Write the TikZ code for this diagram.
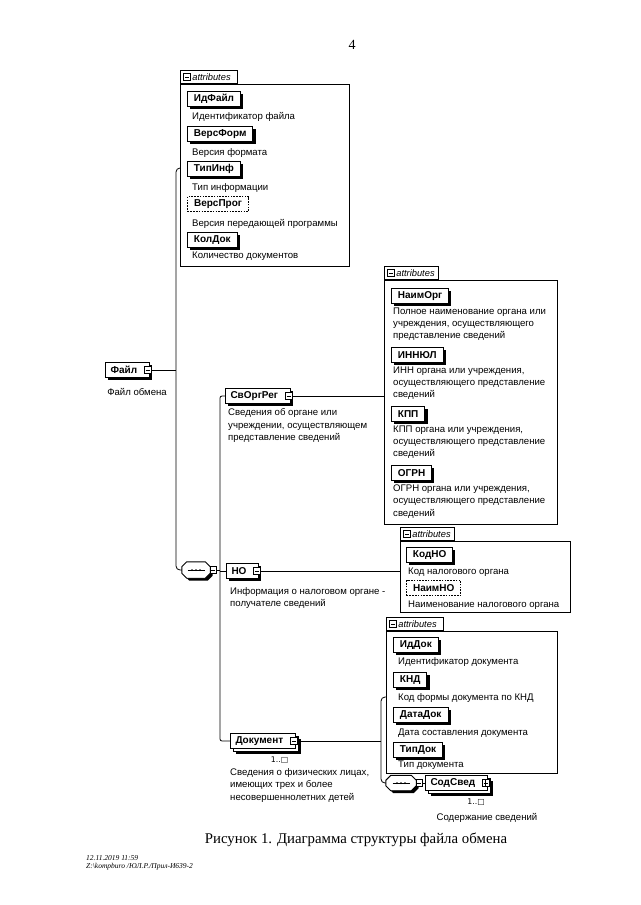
\documentclass[tikz,border=0pt]{standalone}
\usepackage{fontspec}
\setmainfont{Liberation Serif}
\newfontfamily\arfont{Liberation Sans}
\newfontfamily\djfont{DejaVu Sans}
\usetikzlibrary{shadows,calc}
\newcommand{\seqshape}[1]{%
  \fill[black] ($(#1.north west)+(7.5,2.5)$) -- ($(#1.north east)+(-2.5,2.5)$) -- ($(#1.north east)+(2.5,7.5)$) -- ($(#1.south east)+(2.5,-2.5)$)
     -- ($(#1.south east)+(-2.5,2.5)$) -- ($(#1.south west)+(7.5,2.5)$) -- ($(#1.south west)+(2.5,-2.5)$) -- ($(#1.north west)+(2.5,7.5)$) -- cycle;
  \draw[line width=0.9pt,fill=white] ($(#1.north west)+(5,0)$) -- ($(#1.north east)+(-5,0)$) -- ($(#1.north east)+(0,5)$) -- ($(#1.south east)+(0,-5)$)
     -- ($(#1.south east)+(-5,0)$) -- ($(#1.south west)+(5,0)$) -- ($(#1.south west)+(0,-5)$) -- ($(#1.north west)+(0,5)$) -- cycle;
  \draw[line width=0.6pt] ($(#1.center)+(-8.5,0)$) -- ($(#1.center)+(8.5,0)$);
  \foreach \dx in {-4,0,4} \fill ($(#1.center)+(\dx,0)$) circle (1pt);
}
\tikzset{
  conn/.style={line width=0.8pt},
  lblfont/.style={font=\arfont\bfseries\fontsize{10}{12}\selectfont},
  shd/.style={drop shadow={shadow xshift=2.6pt,shadow yshift=-2.6pt,opacity=1,fill=black}},
  attnode/.style={lblfont,draw,fill=white,line width=0.9pt,inner xsep=6.5pt,inner ysep=0pt,minimum height=15pt,anchor=north west,shd},
  optnode/.style={lblfont,draw,fill=white,line width=1.1pt,dash pattern=on 1.6pt off 1.2pt,inner xsep=6.5pt,inner ysep=0pt,minimum height=15pt,anchor=north west},
  elemnode/.style={lblfont,draw,fill=white,line width=1pt,inner xsep=5pt,inner ysep=0pt,minimum height=15.5pt,anchor=west,execute at end node={\hspace{7pt}},shd},
  multinode/.style={lblfont,draw,fill=white,line width=1pt,inner xsep=5pt,inner ysep=0pt,minimum height=15pt,anchor=west,execute at end node={\hspace{7pt}},
     drop shadow={shadow xshift=5.5pt,shadow yshift=-5.5pt,opacity=1,fill=black},
     copy shadow={shadow xshift=3pt,shadow yshift=-3pt,draw=black,fill=white,line width=0.9pt}},
  descr/.style={font=\arfont\fontsize{9.6}{12.3}\selectfont,anchor=north west,inner sep=0pt,align=left},
  abox/.style={draw,line width=0.8pt,anchor=north west,inner sep=0pt},
  tabnode/.style={draw,fill=white,line width=0.8pt,anchor=south west,inner xsep=3pt,inner ysep=0pt,minimum height=13.5pt,font=\arfont\itshape\fontsize{9.3}{10}\selectfont},
  pmbox/.style={draw,fill=white,line width=0.6pt,minimum width=6.5pt,minimum height=7.5pt,inner sep=0pt,
     path picture={\draw[line width=0.6pt] ([xshift=1.2pt]path picture bounding box.west) -- ([xshift=-1.2pt]path picture bounding box.east);}},
  plusbox/.style={pmbox,
     path picture={\draw[line width=0.6pt] ([xshift=1.2pt]path picture bounding box.west) -- ([xshift=-1.2pt]path picture bounding box.east) ([yshift=1.2pt]path picture bounding box.south) -- ([yshift=-1.2pt]path picture bounding box.north);}},
  seqbox/.style={minimum width=28pt,minimum height=16pt,inner sep=0pt},
  multtxt/.style={font=\djfont\fontsize{7.8}{9}\selectfont,inner sep=0pt}
}
\begin{document}
\begin{tikzpicture}[x=1pt,y=-1pt]
\fill[white] (0,0) rectangle (640,905);
\useasboundingbox (0,0) rectangle (640,905);

\node[font=\fontsize{14}{16}\selectfont] (pg) at (352,45) {4};

% ---------- attributes of Файл
\node[abox,minimum width=169pt,minimum height=182pt] (ab1) at (180,84) {};
\node[tabnode,text width=51pt] (tb1) at (ab1.north west) {\hspace{9pt}attributes};
\node[pmbox] (tb1m) at ([xshift=7pt]tb1.west) {};
\node[attnode] (idf) at (187,91) {ИдФайл};
\node[descr] (idfd) at (192,112.5) {Идентификатор файла};
\node[attnode] (vf) at (187,126) {ВерсФорм};
\node[descr] (vfd) at (192,148.5) {Версия формата};
\node[attnode] (ti) at (187,161) {ТипИнф};
\node[descr] (tid) at (192,183.5) {Тип информации};
\node[optnode] (vp) at (187,196) {ВерсПрог};
\node[descr] (vpd) at (192,219.5) {Версия передающей программы};
\node[attnode] (kd) at (187,232) {КолДок};
\node[descr] (kdd) at (192,251.5) {Количество документов};

% ---------- attributes of СвОргРег
\node[abox,minimum width=173pt,minimum height=244pt] (ab2) at (384,280) {};
\node[tabnode,text width=48pt] (tb2) at (ab2.north west) {\hspace{9pt}attributes};
\node[pmbox] (tb2m) at ([xshift=7pt]tb2.west) {};
\node[attnode] (no) at (391,288) {НаимОрг};
\node[descr] (nod) at (393,307.5) {Полное наименование органа или\\учреждения, осуществляющего\\представление сведений};
\node[attnode] (inn) at (391,347) {ИННЮЛ};
\node[descr] (innd) at (393,366.5) {ИНН органа или учреждения,\\осуществляющего представление\\сведений};
\node[attnode] (kpp) at (391,406) {КПП};
\node[descr] (kppd) at (393,425.5) {КПП органа или учреждения,\\осуществляющего представление\\сведений};
\node[attnode] (ogrn) at (391,465) {ОГРН};
\node[descr] (ogrnd) at (393,484.5) {ОГРН органа или учреждения,\\осуществляющего представление\\сведений};

% ---------- attributes of НО
\node[abox,minimum width=170pt,minimum height=71pt] (ab3) at (400,541) {};
\node[tabnode,text width=48pt] (tb3) at (ab3.north west) {\hspace{9pt}attributes};
\node[pmbox] (tb3m) at ([xshift=7pt]tb3.west) {};
\node[attnode] (kno) at (406,547) {КодНО};
\node[descr] (knod) at (408,567.5) {Код налогового органа};
\node[optnode] (nno) at (406,580) {НаимНО};
\node[descr] (nnod) at (408,600.5) {Наименование налогового органа};

% ---------- attributes of Документ
\node[abox,minimum width=171pt,minimum height=142pt] (ab4) at (386,631) {};
\node[tabnode,text width=51pt] (tb4) at (ab4.north west) {\hspace{9pt}attributes};
\node[pmbox] (tb4m) at ([xshift=7pt]tb4.west) {};
\node[attnode] (idd) at (393,637) {ИдДок};
\node[descr] (iddd) at (398,657.5) {Идентификатор документа};
\node[attnode] (knd) at (393,672) {КНД};
\node[descr] (kndd) at (398,693.5) {Код формы документа по КНД};
\node[attnode] (dd) at (393,707) {ДатаДок};
\node[descr] (ddd) at (398,728.5) {Дата составления документа};
\node[attnode] (td) at (393,742) {ТипДок};
\node[descr] (tdd) at (398,760.5) {Тип документа};

% ---------- elements
\node[elemnode] (fa) at (105,370) {Файл};
\node[pmbox] (fam) at ([xshift=-2pt]fa.east) {};
\node[descr,anchor=base] (fad) at (137,395) {Файл обмена};

\node[seqbox] (sq1) at (196,570) {};
\seqshape{sq1}
\node[pmbox] (sq1m) at ([xshift=3pt]sq1.east) {};

\node[elemnode] (sv) at (225,396) {СвОргРег};
\node[pmbox] (svm) at ([xshift=-2pt]sv.east) {};
\node[descr] (svd) at (228,408.5) {Сведения об органе или\\учреждении, осуществляющем\\представление сведений};

\node[elemnode] (ho) at (226,571) {НО};
\node[pmbox] (hom) at ([xshift=-2pt]ho.east) {};
\node[descr] (hod) at (230,587.5) {Информация о налоговом органе -\\получателе сведений};

\node[multinode] (doc) at (230,741) {Документ};
\node[pmbox] (docm) at ([xshift=-2pt]doc.east) {};
\node[multtxt] (docn) at (279.5,760) {1..□};
\node[descr] (docd) at (230,768.5) {Сведения о физических лицах,\\имеющих трех и более\\несовершеннолетних детей};

\node[seqbox,minimum width=30pt,minimum height=15pt] (sq2) at (401,783) {};
\seqshape{sq2}
\node[pmbox] (sq2m) at ([xshift=3pt]sq2.east) {};
\node[multinode] (sod) at (425,783) {СодСвед};
\node[plusbox] (sodm) at ([xshift=-2pt]sod.east) {};
\node[multtxt] (sodn) at (476,802) {1..□};
\node[descr,anchor=base] (sodd) at (487,820) {Содержание сведений};

% ---------- connectors
\coordinate (j0) at (176,168);
\coordinate (j1) at (176,570);
\draw[conn] (fam.east) -- (fam.east -| j0);
\draw[conn,rounded corners=4pt] (ab1.west |- j0) -- (j0) -- (j1) -- (sq1.west);
\coordinate (k0) at (220,396);
\draw[conn] (sq1m.east) -- (sq1m.east -| k0);
\draw[conn,rounded corners=2pt] (sv.west) -- (sv.west -| k0) -- (doc.west -| k0) -- (doc.west);
\draw[conn] (ho.west) -- (ho.west -| k0);
\draw[conn] (svm.east) -- (svm.east -| ab2.west);
\draw[conn] (hom.east) -- (hom.east -| ab3.west);
\coordinate (m0) at (381,697);
\draw[conn] (docm.east) -- (docm.east -| m0);
\draw[conn,rounded corners=4pt] (ab4.west |- m0) -- (m0) -- (m0 |- sq2.west) -- (sq2.west);
\draw[conn] (sq2m.east) -- (sod.west);

% ---------- caption and footer
\node[font=\fontsize{14.8}{17}\selectfont,anchor=base] (cap) at (356,843) {Рисунок 1. Диаграмма структуры файла обмена};
\node[font=\itshape\fontsize{7.5}{9}\selectfont,anchor=base west,inner sep=0pt] (ft1) at (86,860) {12.11.2019 11:59};
\node[font=\itshape\fontsize{7.5}{9}\selectfont,anchor=base west,inner sep=0pt] (ft2) at (86,868) {Z:\textbackslash kompburo /ЮЛ.Р./Прил-И639-2};
\end{tikzpicture}
\end{document}
